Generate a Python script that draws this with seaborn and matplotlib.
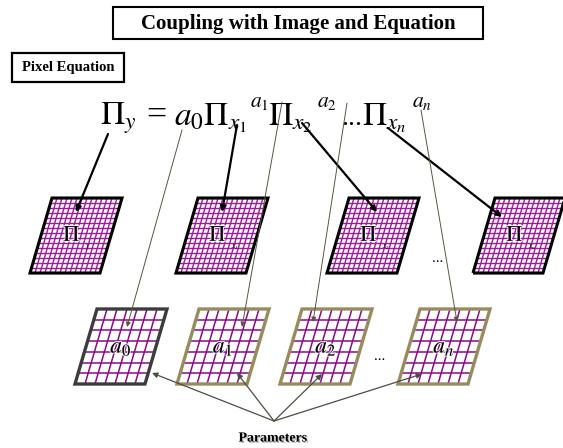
import matplotlib
matplotlib.use("Agg")
import matplotlib.pyplot as plt
import matplotlib.patheffects as pe
from matplotlib.patches import Polygon, Rectangle
import seaborn as sns

# text content of the diagram
title = "Coupling with Image and Equation"
box_label = "Pixel Equation"
bottom_label = "Parameters"
pixel_subs = ["y", "x_1", "x_2", "x_n"]      # Pi_y, Pi_x1 ... images (top row)
param_subs = ["0", "1", "2", "n"]            # a_0, a_1 ... images (bottom row)
eq_parts = [r"$\Pi_y$", "=", r"$a_0\Pi_{x_1}$", r"$\Pi_{x_2}$", "...", r"$\Pi_{x_n}$"]
eq_powers = [r"$a_1$", r"$a_2$", r"$a_n$"]

sns.set_theme(style="white")
plt.rcParams["font.family"] = ["Liberation Serif", "DejaVu Serif"]
plt.rcParams["mathtext.fontset"] = "stix"
plt.rcParams["text.color"] = "black"

fig = plt.figure(figsize=(5.63, 4.48), dpi=100)
ax = fig.add_axes([0, 0, 1, 1])
ax.set_xlim(0, 563)
ax.set_ylim(448, 0)
ax.axis("off")

halo = [pe.withStroke(linewidth=1.6, foreground=(1, 1, 1, 0.8))]


def corner(x0, yb, u, v, w, h, s):
    return (x0 + u * w + v * s, yb - v * h)


def draw_img(x0, yb, nx, ny, gcol, glw, ecol, elw, w=70, h=75, s=22):
    pts = [corner(x0, yb, u, v, w, h, s) for u, v in [(0, 0), (1, 0), (1, 1), (0, 1)]]
    ax.add_patch(Polygon(pts, closed=True, fc="white", ec="none", zorder=1))
    for i in range(nx + 1):
        a = corner(x0, yb, i / nx, 0, w, h, s)
        b = corner(x0, yb, i / nx, 1, w, h, s)
        ax.plot([a[0], b[0]], [a[1], b[1]], color=gcol, lw=glw, zorder=2, solid_capstyle="butt")
    for j in range(ny + 1):
        a = corner(x0, yb, 0, j / ny, w, h, s)
        b = corner(x0, yb, 1, j / ny, w, h, s)
        ax.plot([a[0], b[0]], [a[1], b[1]], color=gcol, lw=glw, zorder=2, solid_capstyle="butt")
    ax.add_patch(Polygon(pts, closed=True, fill=False, ec=ecol, lw=elw, zorder=3, joinstyle="miter"))
    return corner(x0, yb, 0.5, 0.5, w, h, s)


def arrow(p0, p1, col, lw, ms):
    ax.annotate("", xy=p1, xytext=p0,
                arrowprops=dict(arrowstyle="-|>", color=col, lw=lw, mutation_scale=ms,
                                shrinkA=0, shrinkB=0), zorder=5)


# title boxes
ax.add_patch(Rectangle((113, 7), 370, 32, fill=False, ec="black", lw=1.5))
ax.text(298, 24, title, ha="center", va="center", fontsize=15, fontweight="bold")
ax.add_patch(Rectangle((12, 53), 112, 29, fill=False, ec="black", lw=1.6))
ax.text(68, 68, box_label, ha="center", va="center", fontsize=10.5, fontweight="bold")

# the pixel equation
eq_x = [100, 146, 174, 268, 341, 362]
eq_size = [24, 26, 24, 24, 20, 24]
for x, t, fs in zip(eq_x, eq_parts, eq_size):
    ax.text(x, 125, t, ha="left", va="baseline", fontsize=fs)
for x, t in zip([250, 317, 412], eq_powers):
    ax.text(x, 107, t, ha="left", va="baseline", fontsize=15.5)

# top row: pixel images
top_x = [30, 176, 327, 473]
for x0, sub in zip(top_x, pixel_subs):
    cx, cy = draw_img(x0, 273, 14, 15, "#9c1c9c", 1.0, "black", 2.2)
    ax.text(cx - 4, cy + 1, r"$\Pi$", ha="center", va="center", fontsize=16, zorder=4,
            path_effects=halo)
    ax.text(cx + 9, cy + 12, "$" + sub + "$", ha="left", va="center", fontsize=5.5, zorder=4)
ax.text(438, 258, "...", ha="center", va="center", fontsize=11)

# bottom row: parameter images
bot_x = [75, 177, 280, 398]
edge_cols = ["#3c3c3c", "#978c5e", "#978c5e", "#978c5e"]
for x0, sub, ec in zip(bot_x, param_subs, edge_cols):
    cx, cy = draw_img(x0, 384, 7, 7, "#8a0a8a", 1.1, ec, 2.4)
    ax.text(cx, cy + 1, "$a_{" + sub + "}$", ha="center", va="center", fontsize=17, zorder=4,
            path_effects=halo)
ax.text(380, 356, "...", ha="center", va="center", fontsize=11)

# equation -> pixel images
for p0, p1 in [((108, 134), (76, 212)), ((237, 125), (222, 212)),
               ((302, 123), (377, 212)), ((388, 128), (502, 217))]:
    arrow(p0, p1, "black", 1.6, 8)

# coefficients -> parameter images
for p0, p1 in [((182, 130), (127, 327)), ((282, 102), (242, 327)),
               ((347, 103), (313, 322)), ((421, 110), (457, 322))]:
    arrow(p0, p1, "#5a5440", 0.7, 7)

# parameters label
for p1 in [(152, 373), (237, 373), (322, 374), (422, 374)]:
    arrow((274, 421), p1, "#4d4d42", 0.9, 8)
ax.text(273, 438, bottom_label, ha="center", va="center", fontsize=10, fontweight="bold",
        path_effects=[pe.withSimplePatchShadow(offset=(1, -1), shadow_rgbFace="gray", alpha=0.5)])

fig.savefig("out.png", dpi=100)
